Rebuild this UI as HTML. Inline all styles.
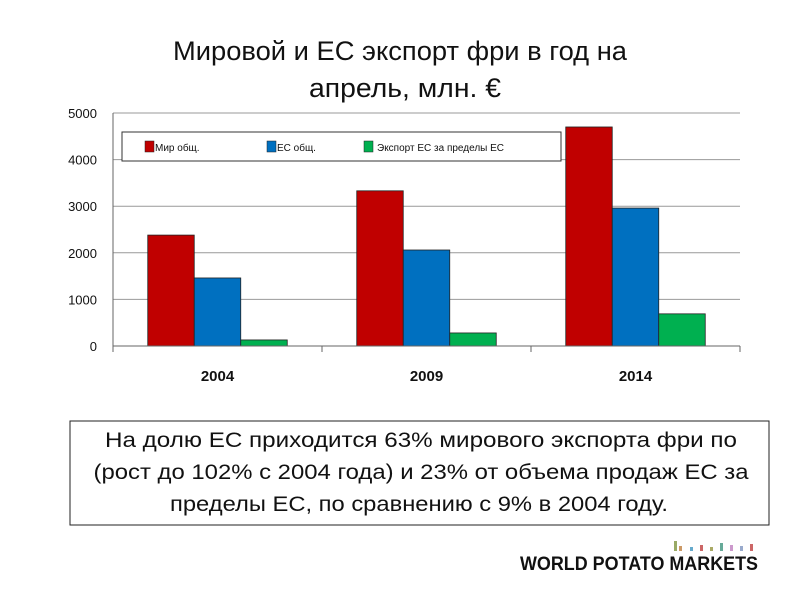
<!DOCTYPE html>
<html><head><meta charset="utf-8"><style>
body{margin:0;background:#fff;}
svg{display:block;font-family:"Liberation Sans","DejaVu Sans",sans-serif;}
</style></head><body>
<svg id="c" width="800" height="600" viewBox="0 0 800 600">
<text x="400" y="60" font-size="27" text-anchor="middle" textLength="454" lengthAdjust="spacingAndGlyphs" fill="#111">Мировой и ЕС экспорт фри в год на</text>
<text x="405" y="97" font-size="27" text-anchor="middle" textLength="192" lengthAdjust="spacingAndGlyphs" fill="#111">апрель, млн. €</text>
<g id="grid"></g>
<g id="bars"></g>
<g id="axes"></g>
<g>
<rect x="122" y="132" width="439" height="29" fill="#fff" stroke="#333" stroke-width="1"/>
<rect x="145" y="141" width="9" height="11" fill="#c00000" stroke="#222" stroke-width="0.5"/>
<text x="155" y="151" font-size="10" fill="#111">Мир общ.</text>
<rect x="267" y="141" width="9" height="11" fill="#0070c0" stroke="#222" stroke-width="0.5"/>
<text x="277" y="151" font-size="10" fill="#111">ЕС общ.</text>
<rect x="364" y="141" width="9" height="11" fill="#00b050" stroke="#222" stroke-width="0.5"/>
<text x="377" y="151" font-size="10" fill="#111">Экспорт ЕС за пределы ЕС</text>
</g>
<g>
<rect x="70" y="421" width="699" height="104" fill="#fff" stroke="#222" stroke-width="1"/>
<text x="421" y="447" font-size="21" text-anchor="middle" textLength="632" lengthAdjust="spacingAndGlyphs" fill="#111">На долю ЕС приходится 63% мирового экспорта фри по</text>
<text x="421" y="479" font-size="21" text-anchor="middle" textLength="655" lengthAdjust="spacingAndGlyphs" fill="#111">(рост до 102% с 2004 года) и 23% от объема продаж ЕС за</text>
<text x="419" y="511" font-size="21" text-anchor="middle" textLength="498" lengthAdjust="spacingAndGlyphs" fill="#111">пределы ЕС, по сравнению с 9% в 2004 году.</text>
</g>
<g>
<g fill="#8a8"><rect x="674" y="541" width="3" height="10" fill="#9a6"/><rect x="679" y="546" width="3" height="5" fill="#c96"/><rect x="690" y="547" width="3" height="4" fill="#6ac"/><rect x="700" y="545" width="3" height="6" fill="#c66"/><rect x="710" y="547" width="3" height="4" fill="#aa6"/><rect x="720" y="543" width="3" height="8" fill="#6a9"/><rect x="730" y="545" width="3" height="6" fill="#c9c"/><rect x="740" y="546" width="3" height="5" fill="#9ac"/><rect x="750" y="544" width="3" height="7" fill="#c66"/></g>
<text x="520" y="570" font-size="19" font-weight="bold" textLength="238" lengthAdjust="spacingAndGlyphs" fill="#111">WORLD POTATO MARKETS</text>
</g>
</svg>
<script>
const categories=["2004","2009","2014"];
const worldTotal=[2380,3330,4700];
const euTotal=[1460,2060,2960];
const euExternal=[130,280,690];
const yTicks=[0,1000,2000,3000,4000,5000];
const NS="http://www.w3.org/2000/svg";
const X0=113,X1=740,Y0=346,Y1=113,YMAX=5000;
const y=v=>Y0-(v/YMAX)*(Y0-Y1);
const cw=(X1-X0)/categories.length;
const xc=i=>X0+cw*i;
function mk(tag,attrs,parent){const e=document.createElementNS(NS,tag);for(const k in attrs)e.setAttribute(k,attrs[k]);parent.appendChild(e);return e;}
const grid=document.getElementById('grid'),bars=document.getElementById('bars'),axes=document.getElementById('axes');
yTicks.forEach(t=>{
 const l=mk('line',{x1:X0,x2:X1,y1:y(t),y2:y(t),stroke:'#999','stroke-width':1},grid);
 
 
 const tx=mk('text',{x:X0-16,y:y(t)+5,'font-size':13,'text-anchor':'end',fill:'#111'},axes);
 tx.textContent=t;
 
 
});
const series=[[worldTotal,'#c00000','world'],[euTotal,'#0070c0','eu'],[euExternal,'#00b050','eu-external']];
const bw=46.5,gap=(cw-bw*3)/2;
categories.forEach((c,i)=>{
 series.forEach((s,j)=>{
  const v=s[0][i];
  const r=mk('rect',{x:xc(i)+gap+j*bw,y:y(v),width:bw,height:Y0-y(v),fill:s[1],stroke:'#222','stroke-width':0.8},bars);
  
  
 });
 const tx=mk('text',{x:xc(i)+cw/2,y:381,'font-size':15,'font-weight':'bold','text-anchor':'middle',fill:'#111'},axes);
 tx.textContent=c;
 
 
});
const ax=mk('line',{x1:X0,x2:X1,y1:Y0,y2:Y0,stroke:'#666','stroke-width':1},axes);


const ay=mk('line',{x1:X0,x2:X0,y1:Y1,y2:Y0,stroke:'#666','stroke-width':1},axes);


for(let i=0;i<=categories.length;i++){
 const tk=mk('line',{x1:xc(i),x2:xc(i),y1:Y0,y2:Y0+6,stroke:'#666','stroke-width':1},axes);
 
 
}
</script>
</body></html>
